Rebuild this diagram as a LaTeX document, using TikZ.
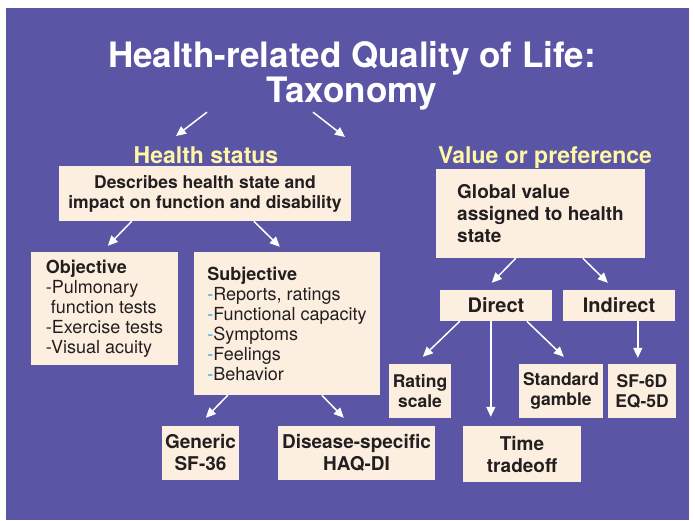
\documentclass[tikz,border=0pt]{standalone}
\usepackage{fontspec}
\setmainfont{TeX Gyre Heros}
\usetikzlibrary{arrows.meta}

\definecolor{slide}{RGB}{90,85,164}
\definecolor{cream}{RGB}{253,239,224}
\definecolor{ink}{RGB}{35,31,32}
\definecolor{head}{RGB}{255,247,165}
\definecolor{dashblue}{RGB}{41,171,226}

\newcommand{\fs}[2]{\fontsize{#1}{#2}\selectfont}
\newcommand{\bd}{\textcolor{dashblue}{-}}

\tikzset{
  box/.style={fill=cream, text=ink, inner sep=0pt, align=center, font=\bfseries\fs{17.5}{20}},
  listbox/.style={box, align=left, font=\fs{18}{20}},
  heading/.style={text=head, inner sep=0pt, font=\bfseries\fs{23}{26}},
  arr/.style={draw=white, line width=1.5pt, -{Triangle[width=9pt,length=10pt]}},
}

\begin{document}
\begin{tikzpicture}[x=1pt,y=-1pt]
\useasboundingbox (0,0) rectangle (695,520);
\fill[slide] (6,8) rectangle (689,520);

\node[text=white, inner sep=0pt, align=center, font=\bfseries\fs{35}{35}, anchor=north] (title) at (352,41)
  {Health-related Quality of Life:\\Taxonomy};

\node[heading, anchor=base] (hs) at (206,163) {Health status};
\node[heading, anchor=base] (vp) at (545,163) {Value or preference};

\node[box, minimum width=292pt, minimum height=55pt] (desc) at (205,193.5)
  {Describes health state and\\impact on function and disability};
\node[box, align=left, font=\bfseries\fs{19}{22}, minimum width=209pt, minimum height=89pt] (glob) at (540.5,213.5)
  {Global value\\assigned to health\\state};

\node[listbox, minimum width=147pt, minimum height=113pt] (obj) at (104.5,308.5)
  {\textbf{Objective}\\-Pulmonary\\\hspace*{5pt}function tests\\-Exercise tests\\-Visual acuity};
\node[listbox, minimum width=186pt, minimum height=143pt] (subj) at (287,323.5)
  {\textbf{Subjective}\\\bd Reports, ratings\\\bd Functional capacity\\\bd Symptoms\\\bd Feelings\\\bd Behavior};

\node[box, font=\bfseries\fs{20}{22}, minimum width=112pt, minimum height=31pt] (direct) at (496,305.5) {Direct};
\node[box, font=\bfseries\fs{20}{22}, minimum width=112pt, minimum height=31pt] (indirect) at (619,305.5) {Indirect};

\node[box, minimum width=62pt, minimum height=54pt] (rating) at (420,391) {Rating\\scale};
\node[box, minimum width=84pt, minimum height=54pt] (gamble) at (561,391) {Standard\\gamble};
\node[box, minimum width=68pt, minimum height=54pt] (sfeq) at (642,391) {SF-6D\\EQ-5D};
\node[box, font=\bfseries\fs{19}{22}, minimum width=118pt, minimum height=56pt] (tto) at (522,454) {Time\\tradeoff};

\node[box, font=\bfseries\fs{19}{22}, minimum width=77pt, minimum height=54pt] (generic) at (200.5,453) {Generic\\SF-36};
\node[box, font=\bfseries\fs{19}{22}, minimum width=157pt, minimum height=54pt] (disease) at (356.5,453) {Disease-specific\\HAQ-DI};

\draw[arr] ([xshift=-145pt,yshift=-2pt]title.south) -- ([xshift=-30pt,yshift=27pt]hs.base);
\draw[arr] ([xshift=-39pt,yshift=-2pt]title.south) -- ([xshift=-200pt,yshift=26pt]vp.base);

\draw[arr] ([xshift=73pt]desc.south west) -- ([xshift=77pt,yshift=6pt]obj.north west);
\draw[arr] ([xshift=195pt]desc.south west) -- ([xshift=86pt,yshift=5pt]subj.north west);
\draw[arr] ([xshift=80pt]glob.south west) -- ([xshift=52pt,yshift=7pt]direct.north west);
\draw[arr] ([xshift=147pt]glob.south west) -- ([xshift=45pt,yshift=7pt]indirect.north west);

\draw[arr] ([xshift=34pt]subj.south west) -- ([xshift=44pt,yshift=8pt]generic.north west);
\draw[arr] ([xshift=128pt]subj.south west) -- ([xshift=66pt,yshift=8pt]disease.north west);

\draw[arr] ([xshift=20pt]direct.south west) -- ([xshift=34pt,yshift=7pt]rating.north west);
\draw[arr] ([xshift=51pt]direct.south west) -- ([xshift=28pt,yshift=9pt]tto.north west);
\draw[arr] ([xshift=87pt]direct.south west) -- ([xshift=45pt,yshift=7pt]gamble.north west);
\draw[arr] ([xshift=75pt]indirect.south west) -- ([xshift=30pt,yshift=6pt]sfeq.north west);

\end{tikzpicture}
\end{document}
